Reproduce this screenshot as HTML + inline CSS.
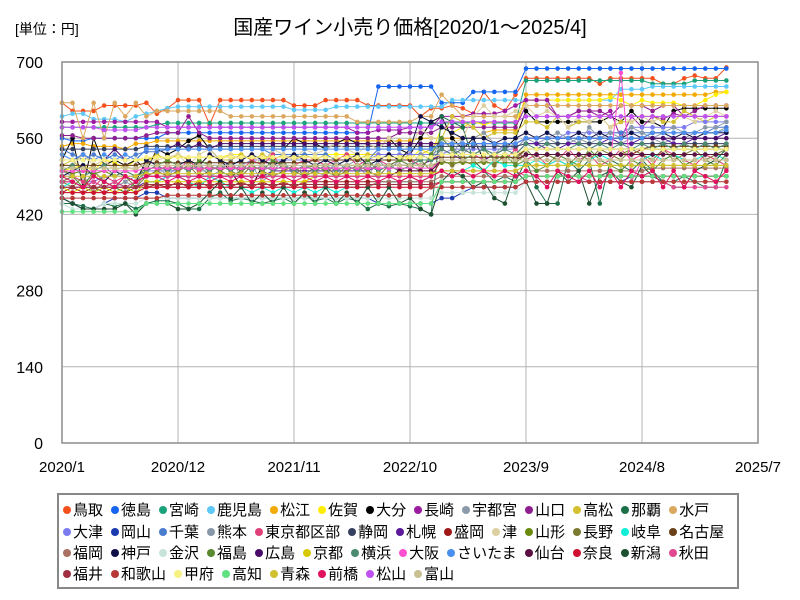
<!DOCTYPE html>
<html><head><meta charset="utf-8"><style>
html,body{margin:0;padding:0;background:#fff;width:800px;height:600px;overflow:hidden;font-family:"Liberation Sans","Noto Sans CJK JP",sans-serif;}
#wrap{position:relative;width:800px;height:600px;}
.legend{position:absolute;left:57px;top:493px;width:682px;height:96px;border:2px solid #888;box-sizing:border-box;background:#fff;}
.lrow{position:absolute;left:4px;height:20px;white-space:nowrap;font-size:15px;line-height:20px;color:#000;}
.li{display:inline-block;margin-right:8px;}
.dot{display:inline-block;width:8px;height:8px;border-radius:50%;margin-right:2px;vertical-align:1px;}
</style></head><body>
<div id="wrap">
<svg id="svg" width="800" height="600" style="position:absolute;left:0;top:0">
<text x="15" y="34" font-size="14" font-family="Liberation Sans, Noto Sans CJK JP, sans-serif">[単位：円]</text>
<text x="410" y="34" font-size="20" text-anchor="middle" font-family="Liberation Sans, Noto Sans CJK JP, sans-serif">国産ワイン小売り価格[2020/1～2025/4]</text>
<g id="grid"></g><g id="marks"></g><g id="axes"></g>
</svg>
<div class="legend" id="legend"></div>
</div>
<script>
const seriesNames=["鳥取","徳島","宮崎","鹿児島","松江","佐賀","大分","長崎","宇都宮","山口","高松","那覇","水戸","大津","岡山","千葉","熊本","東京都区部","静岡","札幌","盛岡","津","山形","長野","岐阜","名古屋","福岡","神戸","金沢","福島","広島","京都","横浜","大阪","さいたま","仙台","奈良","新潟","秋田","福井","和歌山","甲府","高知","青森","前橋","松山","富山"];
const seriesColors=["#f4511e","#1565f0","#1aa37a","#5ec8f8","#f2a900","#ffee00","#000000","#9c1aa0","#8a9aa8","#8e1f8e","#d4c030","#1c7048","#dba860","#7c7cf0","#1a3ab0","#4a7cd0","#8898a8","#e0407a","#364060","#5a1a9a","#a01818","#ddd0a0","#6a8a10","#7a7a30","#10f0d8","#6a4018","#a87060","#101048","#c8e4d8","#5a8a30","#4a0a6a","#d8c800","#4a8a70","#ff50d0","#4a90f0","#5a1040","#d01030","#1c5030","#e04890","#a03040","#b83838","#f8f080","#60e080","#d0c030","#e01060","#c050f0","#c8c090"];
const xTickLabels=["2020/1","2020/12","2021/11","2022/10","2023/9","2024/8","2025/7"];
const xTickMonths=[0,11,22,33,44,55,66];
const yTickValues=[0,140,280,420,560,700];
const d0=[625,610,610,610,620,620,620,620,625,605,615,630,630,630,585,630,630,630,630,630,630,630,620,620,620,630,630,630,630,620,620,620,620,620,600,615,615,620,615,605,645,620,610,640,670,670,670,670,670,670,670,660,670,670,670,670,670,660,660,670,675,670,670,690];
const d1=[560,555,555,560,560,560,560,560,560,560,570,570,570,570,570,570,570,570,570,570,570,570,570,570,570,570,570,570,570,570,655,655,655,655,655,655,625,625,625,645,645,645,645,645,688,688,688,688,688,688,688,688,688,688,688,688,688,688,688,688,688,688,688,688];
const d2=[580,580,580,580,580,580,580,580,580,585,588,588,588,588,588,588,588,588,588,588,588,588,588,588,588,588,588,588,588,588,588,588,588,588,588,588,588,588,588,588,588,588,588,588,666,666,666,666,666,666,666,666,666,666,666,666,660,660,660,660,666,666,666,666];
const d3=[600,605,605,595,595,595,590,600,605,610,615,618,618,618,618,618,618,618,618,618,618,618,612,612,612,612,618,618,618,618,618,618,618,618,618,618,618,630,630,630,630,630,630,630,630,630,630,630,630,630,630,630,630,650,650,650,655,655,655,655,655,655,655,655];
const d4=[545,550,550,545,545,545,540,550,550,555,555,555,555,555,555,555,555,555,555,555,555,555,555,555,555,555,555,555,555,555,555,555,555,555,560,560,560,560,560,560,570,575,575,575,640,640,640,640,640,640,640,640,640,640,640,640,640,640,640,640,640,640,645,645];
const d5=[500,505,510,500,520,515,505,520,520,525,525,525,525,525,525,525,530,530,520,520,530,530,530,530,530,530,530,530,530,530,530,530,530,520,540,530,580,570,580,590,585,590,590,590,630,630,630,630,630,630,630,630,635,630,620,630,625,625,625,620,620,630,640,645];
const d6=[520,560,470,560,510,520,510,520,500,540,530,540,555,565,540,520,500,470,470,510,540,540,560,550,550,540,550,560,550,550,540,560,540,530,560,590,600,560,540,560,520,530,540,560,610,590,590,590,590,590,590,590,600,590,610,590,590,580,610,615,615,615,615,615];
const d7=[590,590,590,590,590,590,590,590,590,590,580,580,580,580,580,580,580,580,580,580,580,580,580,580,580,580,580,580,570,570,575,575,575,580,580,580,600,600,600,605,605,605,610,620,630,630,630,600,600,610,610,600,610,560,600,580,600,595,605,600,600,600,600,600];
const d8=[490,480,470,490,480,470,480,490,500,510,500,500,510,500,500,510,510,500,510,500,510,510,500,510,510,500,510,510,520,510,520,510,520,530,530,530,540,530,560,560,570,550,540,550,560,560,560,550,550,560,550,560,560,550,560,560,560,550,560,560,570,570,570,580];
const d9=[565,565,560,560,560,560,560,560,565,570,570,570,600,570,560,560,560,560,560,560,560,560,560,560,560,560,560,560,560,560,560,560,570,570,570,570,580,580,580,580,580,580,580,580,620,620,620,600,600,610,610,610,600,620,620,620,610,620,620,600,610,620,620,620];
const d10=[510,520,500,510,520,500,510,500,520,530,520,530,520,510,530,520,520,530,520,530,520,530,520,530,520,530,520,530,520,530,530,530,520,530,530,540,560,600,590,580,560,570,570,570,590,590,580,600,580,590,590,600,580,590,590,600,600,590,590,610,600,590,600,600];
const d11=[440,440,435,430,440,435,440,430,440,445,445,440,430,430,450,460,445,450,445,440,445,450,440,460,445,450,440,450,445,430,440,435,440,435,430,420,600,590,580,520,500,480,490,480,520,470,440,440,520,500,520,440,520,510,500,520,500,480,480,490,480,470,470,520];
const d12=[625,625,560,625,560,625,600,625,600,610,610,610,610,610,610,610,600,600,600,600,600,600,600,600,600,600,600,600,590,590,590,590,590,590,600,600,640,620,600,600,600,600,600,600,620,620,620,620,620,620,620,620,620,620,620,620,620,620,620,620,620,620,620,620];
const d13=[490,490,480,480,490,490,490,490,500,500,500,500,510,510,510,510,510,510,520,520,520,520,520,520,520,520,520,520,520,520,530,530,530,530,530,530,530,540,540,540,540,540,540,540,560,560,560,560,570,570,570,570,570,570,580,580,580,580,580,580,590,590,590,590];
const d14=[450,440,430,430,440,450,450,450,460,460,450,450,450,450,450,450,450,450,450,450,450,450,450,450,450,450,450,450,450,450,440,440,440,440,440,440,450,450,460,470,470,470,470,470,480,480,480,480,480,480,480,480,480,480,490,490,490,490,490,490,490,490,490,490];
const d15=[540,530,520,530,520,530,520,530,535,535,540,540,540,540,540,540,540,540,540,540,530,530,530,530,530,530,520,520,520,520,540,540,540,540,540,540,550,550,550,550,550,550,550,550,560,560,560,560,560,560,560,560,570,570,570,570,570,570,570,570,570,570,580,580];
const d16=[500,490,480,490,480,470,480,470,500,510,490,510,500,510,490,500,520,490,510,480,500,520,490,510,500,490,520,500,510,490,520,500,520,510,530,520,560,540,530,550,540,530,550,540,560,550,560,570,560,550,580,560,570,560,580,570,560,570,580,570,570,580,580,590];
const d17=[480,490,480,470,490,480,490,480,490,500,510,500,520,500,510,500,510,500,520,510,530,500,510,520,520,510,520,530,510,520,520,510,520,520,510,520,540,530,540,530,520,530,520,540,520,530,510,520,540,520,530,510,520,540,520,530,510,540,530,520,510,530,520,510];
const d18=[540,540,540,540,540,540,540,540,545,545,545,545,545,545,545,545,545,545,545,545,545,545,545,545,545,545,545,545,545,545,545,545,545,545,545,545,545,545,545,545,545,545,545,545,550,550,550,550,550,550,550,550,550,550,550,550,550,550,550,550,550,550,550,550];
const d19=[470,470,470,470,470,470,470,470,480,480,490,490,490,490,490,490,490,490,490,490,500,500,500,500,500,500,500,500,500,500,510,510,510,510,510,520,530,530,520,520,520,530,530,530,550,550,540,540,550,550,540,550,560,550,550,560,560,560,550,550,560,560,560,570];
const d20=[460,470,460,470,460,470,460,470,470,475,470,480,470,480,470,480,470,480,470,480,470,480,470,480,480,480,480,480,480,480,480,480,480,490,480,490,520,520,520,520,520,520,520,520,530,530,530,530,530,530,530,530,530,530,530,540,540,540,540,540,540,540,540,540];
const d21=[510,510,530,510,520,500,510,500,520,520,525,530,510,530,540,520,530,520,530,510,540,530,520,540,530,540,550,540,530,550,540,560,550,540,580,560,560,550,560,600,620,600,600,610,620,600,610,600,580,600,590,600,580,600,590,600,590,600,600,600,590,600,610,600];
const d22=[500,495,500,495,500,490,500,490,505,505,505,505,505,505,505,505,505,505,505,505,505,505,505,505,510,510,510,510,510,510,510,510,510,510,510,510,515,515,515,515,515,515,515,515,530,530,530,530,530,530,530,530,530,530,540,540,540,540,540,540,540,540,540,540];
const d23=[480,470,490,460,480,470,490,470,490,500,490,500,510,490,500,510,500,490,510,500,490,500,510,490,500,510,490,500,510,500,490,510,500,510,520,500,520,510,520,510,520,510,530,520,540,520,530,520,510,530,520,540,530,520,540,530,520,540,520,530,540,520,530,540];
const d24=[470,480,470,460,470,480,470,460,480,480,490,490,480,470,490,480,470,470,460,470,460,470,460,470,460,470,460,470,470,470,480,480,480,480,480,490,500,500,500,510,500,520,510,510,510,520,510,520,510,520,520,530,520,520,520,520,530,520,530,520,520,530,530,520];
const d25=[510,510,510,510,510,510,510,510,515,515,515,515,515,515,515,515,515,515,515,515,515,515,515,515,520,520,520,520,520,520,520,520,520,520,520,520,525,525,525,525,525,525,525,525,540,540,540,540,540,540,540,540,540,540,540,540,545,545,545,545,545,545,545,545];
const d26=[460,460,460,460,460,460,460,460,470,470,470,470,470,470,470,470,470,470,470,470,470,470,470,470,470,470,470,470,470,470,480,480,480,480,480,480,490,490,490,490,490,490,490,490,500,500,500,500,500,500,500,500,500,500,500,500,505,505,505,505,505,505,505,505];
const d27=[490,500,510,490,480,500,490,480,520,510,500,510,520,510,530,520,510,520,530,520,510,520,530,520,510,520,510,520,530,510,520,530,520,540,600,590,580,570,560,560,560,550,560,560,570,560,570,560,560,570,560,570,560,560,570,560,570,570,560,570,560,570,570,570];
const d28=[440,430,430,430,440,440,440,440,450,450,450,450,450,450,450,450,450,450,450,450,450,450,450,450,450,450,450,450,450,450,450,450,450,450,450,450,460,460,460,460,460,460,460,460,480,480,480,480,480,480,480,480,480,480,480,480,480,480,480,480,480,480,480,480];
const d29=[480,490,470,500,480,470,460,480,500,510,520,510,500,520,510,500,490,500,510,500,520,510,500,490,510,500,490,510,500,520,500,510,520,510,500,530,560,540,520,530,540,520,530,510,520,500,510,530,520,510,540,520,510,500,520,510,500,520,530,510,520,520,510,530];
const d30=[520,520,530,520,520,540,520,520,540,540,540,550,540,550,540,550,550,550,550,550,550,550,550,550,550,550,550,550,550,550,550,550,550,550,550,550,550,550,550,550,550,550,550,550,560,560,560,560,560,560,560,560,560,560,560,560,560,560,560,560,560,560,560,560];
const d31=[470,460,470,460,470,460,470,460,480,480,480,480,480,480,480,480,480,480,480,480,480,480,480,480,490,490,490,490,490,490,490,490,490,490,490,490,500,500,500,500,500,500,500,500,510,510,510,510,510,510,510,510,510,510,510,510,510,510,510,510,510,510,510,510];
const d32=[500,510,490,500,510,490,500,490,500,510,500,510,500,510,500,510,500,510,500,510,500,510,500,510,500,510,500,510,500,510,500,510,500,510,520,520,540,530,540,530,540,530,540,530,550,540,550,540,540,550,540,550,540,550,540,550,540,550,540,550,540,550,540,550];
const d33=[500,500,500,500,500,500,500,500,505,505,505,505,505,505,505,505,505,505,505,505,505,505,505,505,505,505,505,505,505,505,505,505,505,505,505,505,520,520,520,520,520,520,520,520,520,520,520,520,520,520,520,520,520,680,480,520,520,520,520,520,520,520,520,520];
const d34=[530,520,530,520,530,520,530,520,540,540,540,540,540,540,540,540,540,540,540,540,540,540,540,540,540,540,540,540,540,540,540,540,540,540,540,540,550,550,550,550,550,550,550,550,560,560,560,560,560,560,560,560,560,560,560,560,570,570,570,570,570,570,570,575];
const d35=[480,480,470,480,470,480,470,480,490,490,490,490,490,490,490,490,490,490,490,490,490,490,490,490,490,490,490,490,490,490,490,490,500,500,500,500,520,520,520,520,520,520,520,520,530,530,530,530,530,530,530,530,530,530,530,530,530,530,530,530,530,530,530,530];
const d36=[460,460,460,460,460,460,460,460,470,470,470,470,470,470,470,470,470,470,470,470,470,470,470,470,470,470,470,470,470,470,470,470,470,470,470,470,480,480,480,480,480,480,480,480,490,490,490,490,490,490,490,490,490,490,490,490,490,490,490,490,490,490,490,490];
const d37=[450,440,430,430,430,430,440,420,440,440,440,430,430,440,460,480,450,470,440,460,440,470,440,460,440,470,440,460,440,470,440,470,440,450,430,420,480,500,490,470,480,450,440,500,480,440,440,500,480,500,440,490,500,480,470,510,490,480,470,470,500,510,520,540];
const d38=[480,480,470,480,470,480,470,480,490,490,490,490,490,490,490,490,490,490,490,490,490,490,490,490,490,490,490,490,490,490,490,490,490,490,490,490,500,500,500,500,500,500,500,500,490,490,490,490,490,490,480,480,480,480,480,480,480,480,470,470,470,470,470,470];
const d39=[470,470,470,470,470,470,470,470,475,475,475,475,475,475,475,475,475,475,475,475,475,475,475,475,475,475,475,475,475,475,475,475,475,475,475,475,480,480,480,480,480,480,480,480,490,490,490,490,490,490,490,490,490,490,490,490,490,490,490,490,490,490,490,490];
const d40=[450,450,450,450,450,450,450,450,450,450,455,455,455,455,455,455,455,455,455,455,455,455,455,455,455,455,455,455,455,455,455,455,455,455,455,470,470,470,470,470,470,470,470,470,480,480,480,480,480,480,480,480,480,480,480,480,480,480,480,480,480,480,480,480];
const d41=[520,520,520,520,520,520,520,520,525,525,525,525,525,525,525,525,525,525,525,525,525,525,525,525,525,525,525,525,525,525,525,525,525,525,525,525,530,530,530,530,530,530,530,530,540,540,540,540,540,540,540,540,540,540,540,540,540,540,540,540,540,540,540,540];
const d42=[425,425,425,425,425,425,425,425,440,440,440,440,440,440,440,440,440,440,440,440,440,440,440,440,440,440,440,440,440,440,440,440,440,440,440,440,480,480,480,480,480,480,480,480,490,490,490,490,490,490,490,490,490,490,490,490,490,490,490,490,490,490,490,490];
const d43=[490,490,490,490,490,490,490,490,495,495,495,495,495,495,495,495,495,495,495,495,495,495,495,495,495,495,495,495,495,495,495,495,495,495,495,495,500,500,500,500,500,500,500,500,510,510,510,510,510,510,510,510,510,510,510,510,510,510,510,510,510,510,510,510];
const d44=[490,480,470,490,480,470,490,480,490,490,480,490,480,490,480,490,480,490,480,490,480,490,480,490,480,490,480,490,480,490,480,490,480,490,480,490,500,490,500,490,500,490,500,490,500,490,470,500,490,480,500,470,500,470,500,490,500,470,500,470,500,490,480,500];
const d45=[580,580,580,580,575,575,575,575,580,580,580,580,580,580,580,580,580,580,580,580,580,580,580,580,580,580,580,580,580,580,580,580,580,580,580,580,590,590,590,590,590,590,590,590,600,600,600,600,600,600,600,600,600,600,600,600,600,600,600,600,600,600,600,600];
const d46=[505,505,505,505,505,505,505,505,510,510,510,510,510,510,510,510,510,510,510,510,510,510,510,510,510,510,510,510,510,510,510,510,510,510,510,510,520,520,520,520,520,520,520,520,520,520,520,520,520,520,520,520,520,520,520,520,520,520,520,520,520,520,520,520];
const seriesValues=[d0,d1,d2,d3,d4,d5,d6,d7,d8,d9,d10,d11,d12,d13,d14,d15,d16,d17,d18,d19,d20,d21,d22,d23,d24,d25,d26,d27,d28,d29,d30,d31,d32,d33,d34,d35,d36,d37,d38,d39,d40,d41,d42,d43,d44,d45,d46];

const NS="http://www.w3.org/2000/svg";
const PL=62,PR=758,PT=62,PB=443,YMAX=700,XMAXM=66;
function xs(m){return PL+m*(PR-PL)/XMAXM;}
function ys(v){return PB-v*(PB-PT)/YMAX;}
function mk(tag,attrs,parent){const e=document.createElementNS(NS,tag);for(const k in attrs)e.setAttribute(k,attrs[k]);parent.appendChild(e);return e;}
const grid=document.getElementById('grid'),marks=document.getElementById('marks'),axes=document.getElementById('axes');
yTickValues.forEach(v=>{
  const l=mk('line',{x1:PL,x2:PR,y1:ys(v),y2:ys(v),stroke:'#b4b4b4','stroke-width':1},grid);
  
  
  const t=mk('text',{x:43,y:ys(v)+6,'text-anchor':'end','font-size':16,fill:'#000'},axes);
  t.textContent=v;
  
  
});
xTickMonths.forEach((m,i)=>{
  const l=mk('line',{x1:xs(m),x2:xs(m),y1:PT,y2:PB,stroke:'#b4b4b4','stroke-width':1},grid);
  
  
  const t=mk('text',{x:xs(m),y:472,'text-anchor':'middle','font-size':15,fill:'#000'},axes);
  t.textContent=xTickLabels[i];
  
  
});
const fr=mk('rect',{x:PL,y:PT,width:PR-PL,height:PB-PT,fill:'none',stroke:'#8c8c8c','stroke-width':1.5},axes);


seriesValues.forEach((arr,si)=>{
  const g=mk('g',{},marks);
  
  
  const pts=arr.map((v,i)=>xs(i).toFixed(1)+','+ys(v).toFixed(1)).join(' ');
  const pl=mk('polyline',{points:pts,fill:'none',stroke:seriesColors[si],'stroke-width':1},g);
  
  
  arr.forEach((v,i)=>{
    const c=mk('circle',{cx:xs(i),cy:ys(v),r:2.3,fill:seriesColors[si]},g);
    
    
  });
});
const legendRows=[[0,13],[13,26],[26,39],[39,47]];
const rowTops=[6,28,49,70];
const leg=document.getElementById('legend');
legendRows.forEach((r,ri)=>{
  const row=document.createElement('div');
  row.className='lrow';row.style.top=rowTops[ri]+'px';
  
  
  for(let i=r[0];i<r[1];i++){
    const it=document.createElement('span');it.className='li';
    
    
    const d=document.createElement('span');d.className='dot';d.style.background=seriesColors[i];
    
    
    it.appendChild(d);
    it.appendChild(document.createTextNode(seriesNames[i]));
    row.appendChild(it);
  }
  leg.appendChild(row);
});
</script>
</body></html>
